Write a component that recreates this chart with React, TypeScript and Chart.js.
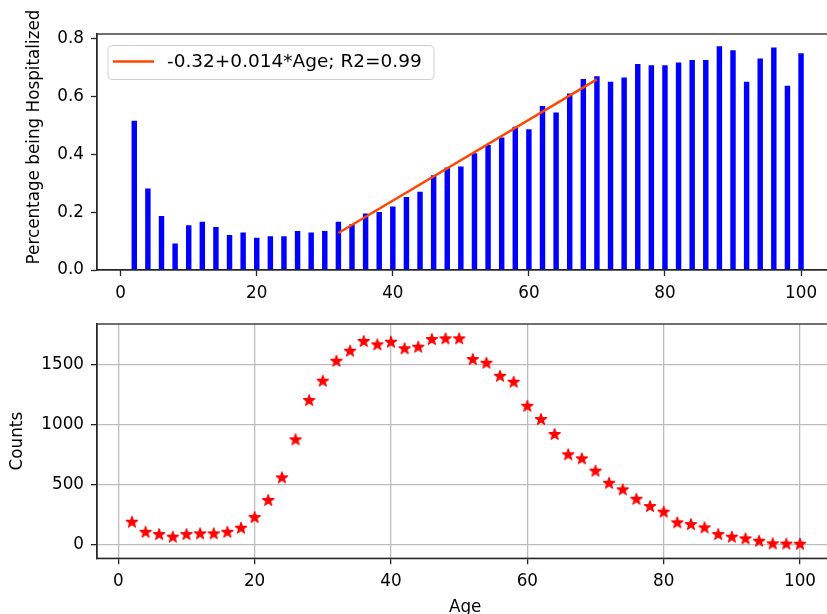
import React, { useEffect, useRef } from 'react';
import { Chart, registerables } from 'chart.js';

Chart.register(...registerables);

// ---------- data ----------
const ages = [2, 4, 6, 8, 10, 12, 14, 16, 18, 20, 22, 24, 26, 28, 30, 32, 34, 36, 38, 40, 42, 44, 46, 48, 50,
  52, 54, 56, 58, 60, 62, 64, 66, 68, 70, 72, 74, 76, 78, 80, 82, 84, 86, 88, 90, 92, 94, 96, 98, 100];

const hospShare = [0.517, 0.282, 0.187, 0.092, 0.155, 0.167, 0.149, 0.121, 0.130, 0.112,
  0.117, 0.117, 0.135, 0.130, 0.135, 0.167, 0.158, 0.196, 0.201, 0.220,
  0.253, 0.271, 0.328, 0.355, 0.358, 0.404, 0.433, 0.459, 0.496, 0.487,
  0.568, 0.545, 0.611, 0.661, 0.671, 0.652, 0.666, 0.713, 0.709, 0.709,
  0.718, 0.727, 0.727, 0.775, 0.761, 0.652, 0.732, 0.770, 0.638, 0.750];

const counts = [189, 105, 86, 64, 86, 92, 92, 105, 139, 228,
  371, 560, 878, 1207, 1369, 1536, 1620, 1701, 1673, 1695,
  1640, 1653, 1717, 1723, 1723, 1550, 1519, 1410, 1360, 1159,
  1048, 923, 753, 719, 616, 515, 460, 381, 320, 273,
  184, 169, 142, 86, 64, 50, 30, 8, 6, 5];

const fitAges = [32, 70];
const fitValues = [0.128, 0.66];
const fitLabel = '-0.32+0.014*Age; R2=0.99';

const ageTicks = [0, 20, 40, 60, 80, 100];
const shareTicks = [0, 0.2, 0.4, 0.6, 0.8];
const countTicks = [0, 500, 1000, 1500];

const topYTitle = 'Percentage being Hospitalized';
const bottomYTitle = 'Counts';
const xTitle = 'Age';

// ---------- style ----------
const FONT = "'DejaVu Sans', sans-serif";
const FS = 16.8;
const LEGEND_FS = 18.5;
const INK = '#000000';
const SPINE = '#262626';
const GRID = '#bdbdbd';
const BAR = '#0000ff';
const FIT = '#ff4500';
const STAR = '#ff0000';

Chart.defaults.font.family = FONT;
Chart.defaults.font.size = FS;
Chart.defaults.color = INK;

function makeStar(color: string) {
  const c = document.createElement('canvas');
  c.width = 16;
  c.height = 16;
  const ctx = c.getContext('2d')!;
  const R = 5.9;
  ctx.beginPath();
  for (let i = 0; i < 10; i++) {
    const r = i % 2 === 0 ? R : R * 0.4;
    const a = -Math.PI / 2 + (i * Math.PI) / 5;
    const px = 8 + r * Math.cos(a);
    const py = 8.5 + r * Math.sin(a);
    if (i === 0) ctx.moveTo(px, py);
    else ctx.lineTo(px, py);
  }
  ctx.closePath();
  ctx.fillStyle = color;
  ctx.fill();
  ctx.lineWidth = 1.2;
  ctx.lineJoin = 'round';
  ctx.strokeStyle = color;
  ctx.stroke();
  return c;
}

const framePlugin = {
  id: 'frame',
  afterDraw(chart: any) {
    const { ctx, chartArea: a } = chart;
    ctx.save();
    ctx.strokeStyle = SPINE;
    ctx.lineWidth = 1.3;
    ctx.strokeRect(a.left, a.top, a.right - a.left, a.bottom - a.top);
    ctx.restore();
  },
};

const fitLegendPlugin = {
  id: 'fitLegend',
  afterDraw(chart: any) {
    const ds = chart.data.datasets.find((d: any) => d.type === 'line');
    if (!ds) return;
    const a = chart.chartArea;
    const ctx = chart.ctx;
    const x = a.left + 11;
    const y = a.top + 11.5;
    const w = 326;
    const h = 34;
    ctx.save();
    ctx.beginPath();
    ctx.roundRect(x, y, w, h, 4);
    ctx.fillStyle = 'rgba(255,255,255,0.8)';
    ctx.fill();
    ctx.strokeStyle = '#d0d0d0';
    ctx.lineWidth = 1;
    ctx.stroke();
    ctx.beginPath();
    ctx.moveTo(x + 5, y + h / 2 - 1);
    ctx.lineTo(x + 46, y + h / 2 - 1);
    ctx.strokeStyle = ds.borderColor;
    ctx.lineWidth = ds.borderWidth;
    ctx.stroke();
    ctx.font = `${LEGEND_FS}px ${FONT}`;
    ctx.fillStyle = INK;
    ctx.textAlign = 'left';
    ctx.textBaseline = 'middle';
    ctx.fillText(ds.label, x + 59, y + h / 2);
    ctx.restore();
  },
};

const sideTitlePlugin = {
  id: 'sideTitle',
  afterDraw(chart: any, _args: any, opts: any) {
    if (!opts || !opts.text) return;
    const ctx = chart.ctx;
    ctx.save();
    ctx.translate(opts.x, opts.y);
    ctx.rotate(-Math.PI / 2);
    ctx.font = `${FS}px ${FONT}`;
    ctx.fillStyle = INK;
    ctx.textAlign = 'center';
    ctx.textBaseline = 'middle';
    ctx.fillText(opts.text, 0, 0);
    ctx.restore();
  },
};

const tickFont = { family: FONT, size: FS };

export default function App() {
  const topRef = useRef<HTMLCanvasElement>(null);
  const botRef = useRef<HTMLCanvasElement>(null);

  useEffect(() => {
    const star = makeStar(STAR);

    const top = new Chart(topRef.current!, {
      type: 'bar',
      data: {
        datasets: [
          {
            type: 'line',
            label: fitLabel,
            data: fitAges.map((x, i) => ({ x, y: fitValues[i] })),
            borderColor: FIT,
            borderWidth: 2.4,
            pointRadius: 0,
            order: 0,
          } as any,
          {
            type: 'bar',
            label: topYTitle,
            data: ages.map((x, i) => ({ x, y: hospShare[i] })),
            backgroundColor: BAR,
            barPercentage: 0.4,
            categoryPercentage: 1,
            order: 1,
          } as any,
        ],
      },
      options: {
        responsive: false,
        animation: false,
        devicePixelRatio: 1,
        events: [],
        layout: { padding: { left: 0, top: 34, right: 12.7, bottom: 340 } },
        plugins: {
          legend: { display: false },
          tooltip: { enabled: false },
          sideTitle: { text: topYTitle, x: 35, y: 137 },
        } as any,
        scales: {
          x: {
            type: 'linear',
            min: -3.48,
            max: 105.33,
            offset: false,
            afterBuildTicks: (s: any) => {
              s.ticks = ageTicks.map((v) => ({ value: v }));
            },
            afterFit: (s: any) => {
              s.height = 30;
            },
            grid: {
              offset: false,
              drawOnChartArea: false,
              drawTicks: true,
              tickLength: 6,
              tickColor: SPINE,
              tickWidth: 1.3,
            },
            border: { display: true, color: SPINE, width: 1.3 },
            ticks: {
              autoSkip: false,
              maxRotation: 0,
              padding: 8,
              color: INK,
              font: tickFont,
              callback: (v: any) => String(v),
            },
          },
          y: {
            type: 'linear',
            min: 0,
            max: 0.817,
            afterBuildTicks: (s: any) => {
              s.ticks = shareTicks.map((v) => ({ value: v }));
            },
            afterFit: (s: any) => {
              s.width = 97;
            },
            grid: {
              drawOnChartArea: false,
              drawTicks: true,
              tickLength: 6,
              tickColor: SPINE,
              tickWidth: 1.3,
            },
            border: { display: true, color: SPINE, width: 1.3 },
            ticks: {
              padding: 7,
              color: INK,
              font: tickFont,
              callback: (v: any) => Number(v).toFixed(1),
            },
          },
        },
      } as any,
      plugins: [framePlugin, fitLegendPlugin, sideTitlePlugin],
    } as any);

    const bot = new Chart(botRef.current!, {
      type: 'scatter',
      data: {
        datasets: [
          {
            label: bottomYTitle,
            data: ages.map((x, i) => ({ x, y: counts[i] })),
            pointStyle: star,
            backgroundColor: STAR,
            borderColor: STAR,
          } as any,
        ],
      },
      options: {
        responsive: false,
        animation: false,
        devicePixelRatio: 1,
        events: [],
        layout: { padding: { left: 0, top: 324, right: 16.6, bottom: 22 } },
        plugins: {
          legend: { display: false },
          tooltip: { enabled: false },
        },
        scales: {
          x: {
            type: 'linear',
            min: -3.12,
            max: 104.9,
            afterBuildTicks: (s: any) => {
              s.ticks = ageTicks.map((v) => ({ value: v }));
            },
            afterFit: (s: any) => {
              s.height = 59.7;
            },
            title: { display: true, text: xTitle, padding: 0, color: INK, font: tickFont },
            grid: {
              color: GRID,
              lineWidth: 1.3,
              drawOnChartArea: true,
              drawTicks: true,
              tickLength: 6,
              tickColor: SPINE,
              tickWidth: 1.3,
            },
            border: { display: true, color: SPINE, width: 1.3 },
            ticks: {
              autoSkip: false,
              maxRotation: 0,
              padding: 7,
              color: INK,
              font: tickFont,
              callback: (v: any) => String(v),
            },
          },
          y: {
            type: 'linear',
            min: -117,
            max: 1843,
            afterBuildTicks: (s: any) => {
              s.ticks = countTicks.map((v) => ({ value: v }));
            },
            afterFit: (s: any) => {
              s.width = 97;
            },
            title: {
              display: true,
              text: bottomYTitle,
              padding: { top: 8, bottom: 0 },
              color: INK,
              font: tickFont,
            },
            grid: {
              color: GRID,
              lineWidth: 1.3,
              drawOnChartArea: true,
              drawTicks: true,
              tickLength: 6,
              tickColor: SPINE,
              tickWidth: 1.3,
            },
            border: { display: true, color: SPINE, width: 1.3 },
            ticks: {
              padding: 7,
              color: INK,
              font: tickFont,
              callback: (v: any) => String(v),
            },
          },
        },
      } as any,
      plugins: [framePlugin],
    } as any);

    return () => {
      top.destroy();
      bot.destroy();
    };
  }, []);

  return (
    <div
      style={{
        position: 'absolute',
        left: 0,
        top: 0,
        width: 827,
        height: 614,
        overflow: 'hidden',
        background: '#ffffff',
      }}
    >
      <canvas
        ref={botRef}
        width={850}
        height={640}
        style={{ position: 'absolute', left: 0, top: 0, width: 850, height: 640 }}
      />
      <canvas
        ref={topRef}
        width={850}
        height={640}
        style={{ position: 'absolute', left: 0, top: 0, width: 850, height: 640 }}
      />
    </div>
  );
}
